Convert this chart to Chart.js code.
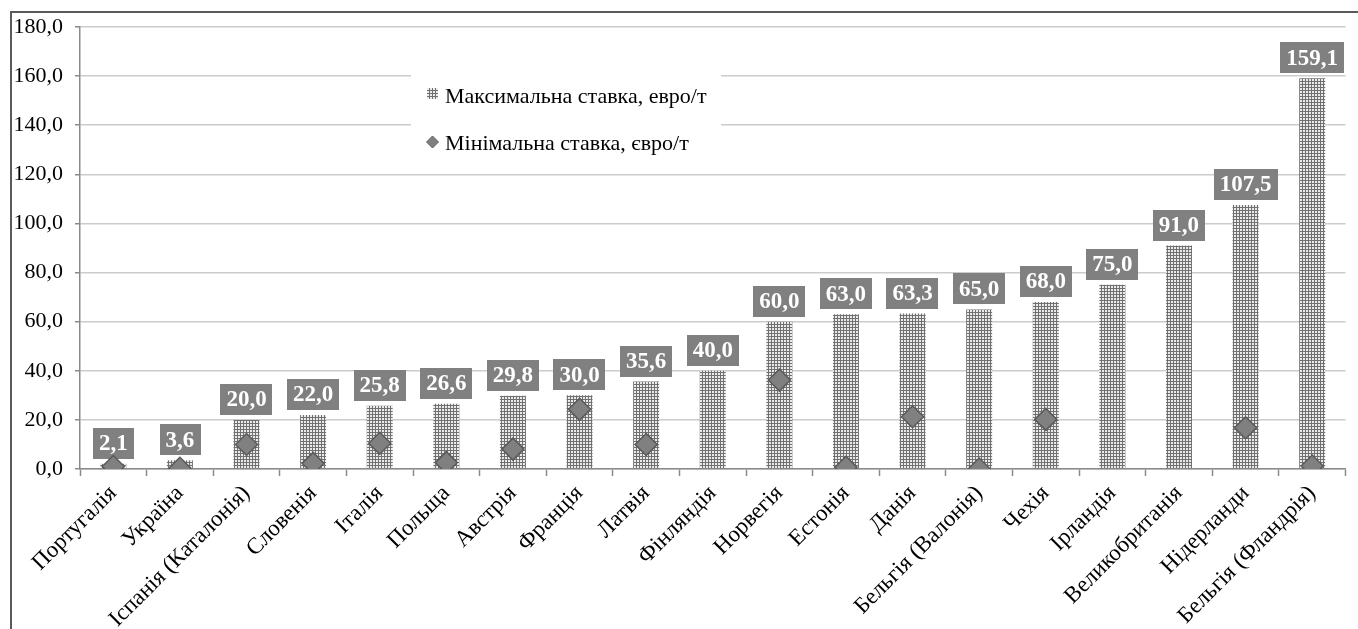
<!DOCTYPE html>
<html><head><meta charset="utf-8">
<script src="https://cdn.jsdelivr.net/npm/chart.js@4/dist/chart.umd.min.js"></script>
<style>html,body{margin:0;padding:0;background:#fff;}canvas{display:block;}
.probe{position:absolute;left:-9999px;top:0;font-family:'Liberation Serif';font-size:22px;}</style>
</head><body>
<span class="probe" id="p1">Португалія 180,0</span><span class="probe" style="font-weight:bold" id="p2">159,1</span>
<canvas id="c" width="1358" height="629"></canvas>
<script>
const categories = ["Португалія","Україна","Іспанія (Каталонія)","Словенія","Італія","Польща","Австрія","Франція","Латвія","Фінляндія","Норвегія","Естонія","Данія","Бельгія (Валонія)","Чехія","Ірландія","Великобританія","Нідерланди","Бельгія (Фландрія)"];
const maxRate = [2.1,3.6,20.0,22.0,25.8,26.6,29.8,30.0,35.6,40.0,60.0,63.0,63.3,65.0,68.0,75.0,91.0,107.5,159.1];
const minRate = [1.0,0.3,10.0,2.3,10.5,2.6,8.1,24.3,10.0,null,36.2,0.7,21.3,0.0,20.2,null,null,16.8,1.2];
const seriesNames = ["Максимальна ставка, евро/т","Мінімальна ставка, євро/т"];
const yTicks = {min:0,max:180,step:20};

document.getElementById('p1').offsetWidth; document.getElementById('p2').offsetWidth;

const FONT = "'Liberation Serif'";
const fmt = v => v.toFixed(1).replace('.', ',');

function makePattern(){
  const p = document.createElement('canvas'); p.width=3; p.height=3;
  const g = p.getContext('2d');
  g.fillStyle='#ebebeb'; g.fillRect(0,0,3,3);
  g.fillStyle='#707070'; g.fillRect(0,0,3,1); g.fillRect(0,0,1,3);
  return document.getElementById('c').getContext('2d').createPattern(p,'repeat');
}
const pattern = makePattern();

const framePlugin = {
  id:'frame',
  beforeDraw(chart){
    const ctx=chart.ctx; ctx.save();
    ctx.strokeStyle='#5a5a5a'; ctx.lineWidth=2;
    ctx.strokeRect(11,12,1360,640);
    ctx.restore();
  }
};

const labelPlugin = {
  id:'barLabels',
  afterDatasetDraw(chart,args){
    if(args.index!==0) return;
    const ctx=chart.ctx; const meta=chart.getDatasetMeta(0);
    ctx.save();
    ctx.font='bold 23px '+FONT;
    ctx.textAlign='center'; ctx.textBaseline='middle';
    meta.data.forEach((el,i)=>{
      const txt=fmt(maxRate[i]);
      const w=ctx.measureText(txt).width+12, h=31;
      const bottom=el.y-5;
      ctx.fillStyle='#808080';
      ctx.fillRect(Math.round(el.x-w/2), Math.round(bottom-h), Math.round(w), h);
      ctx.fillStyle='#ffffff';
      ctx.fillText(txt, el.x, bottom-h/2+1);
    });
    ctx.restore();
  }
};

const legendPlugin = {
  id:'inLegend',
  afterDraw(chart){
    const ctx=chart.ctx; ctx.save();
    ctx.fillStyle='#ffffff'; ctx.fillRect(411,62,310,106);
    ctx.fillStyle=pattern; ctx.fillRect(427,88,11,11);
    ctx.fillStyle='#808080'; ctx.strokeStyle='#5e5e5e'; ctx.lineWidth=1;
    ctx.beginPath(); ctx.moveTo(432.5,136); ctx.lineTo(438.5,142); ctx.lineTo(432.5,148); ctx.lineTo(426.5,142); ctx.closePath(); ctx.fill(); ctx.stroke();
    ctx.fillStyle='#000'; ctx.font='22px '+FONT; ctx.textAlign='left'; ctx.textBaseline='alphabetic';
    ctx.fillText(seriesNames[0],445,103);
    ctx.fillText(seriesNames[1],445,150);
    ctx.restore();
  }
};

new Chart(document.getElementById('c'),{
  type:'bar',
  data:{labels:categories,datasets:[
    {type:'bar',label:seriesNames[0],data:maxRate,backgroundColor:pattern,borderWidth:0,barPercentage:0.39,categoryPercentage:1,order:2},
    {type:'line',label:seriesNames[1],data:minRate,showLine:false,pointStyle:'rectRot',pointRadius:11,pointHoverRadius:11,pointBackgroundColor:'#808080',pointBorderColor:'#5a5a5a',pointBorderWidth:1.5,order:1}
  ]},
  options:{
    responsive:false,animation:false,
    layout:{padding:{left:10,right:9,top:27,bottom:0}},
    plugins:{legend:{display:false},tooltip:{enabled:false}},
    scales:{
      x:{
        grid:{offset:true,drawOnChartArea:false,color:'#8a8a8a',tickLength:7,tickWidth:1.5},
        border:{color:'#8a8a8a',width:1.5},
        ticks:{color:'#000',font:{family:FONT,size:23},minRotation:45,maxRotation:45,autoSkip:false,padding:4},
        afterFit(s){s.height=160;}
      },
      y:{
        min:yTicks.min,max:yTicks.max,
        grid:{color:'#cccccc',lineWidth:1.5,tickLength:5,tickColor:'#8a8a8a'},
        border:{color:'#8a8a8a',width:1.5},
        ticks:{stepSize:yTicks.step,color:'#000',font:{family:FONT,size:22},padding:12,callback:v=>fmt(v)},
        afterFit(s){s.width=70;}
      }
    }
  },
  plugins:[framePlugin,labelPlugin,legendPlugin]
});
</script>
</body></html>
